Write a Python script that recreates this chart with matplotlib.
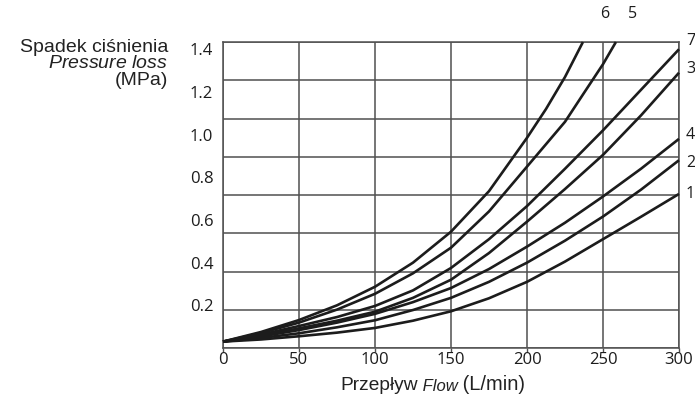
import numpy as np
import matplotlib.pyplot as plt

plt.rcParams["mathtext.fontset"] = "custom"
plt.rcParams["mathtext.rm"] = "Liberation Sans"
plt.rcParams["mathtext.it"] = "Liberation Sans:italic"

# flow (L/min) and pressure loss (MPa), one pair per curve
flow_std = [0, 25, 50, 75, 100, 125, 150, 175, 200, 225, 250, 275, 300]

loss_1 = [0.03, 0.04, 0.055, 0.072, 0.094, 0.128, 0.172, 0.233, 0.31, 0.405, 0.51, 0.615, 0.722]
loss_2 = [0.03, 0.047, 0.069, 0.097, 0.13, 0.178, 0.235, 0.31, 0.40, 0.503, 0.616, 0.742, 0.88]
loss_3 = [0.03, 0.058, 0.092, 0.128, 0.17, 0.235, 0.32, 0.445, 0.592, 0.745, 0.905, 1.09, 1.29]
loss_4 = [0.03, 0.054, 0.084, 0.119, 0.16, 0.215, 0.281, 0.37, 0.475, 0.587, 0.71, 0.84, 0.98]
loss_7 = [0.03, 0.063, 0.103, 0.145, 0.197, 0.27, 0.375, 0.51, 0.665, 0.84, 1.02, 1.21, 1.40]

flow_5 = [0, 25, 50, 75, 100, 125, 150, 175, 200, 225, 237, 250, 258.5]
loss_5 = [0.03, 0.07, 0.119, 0.18, 0.254, 0.35, 0.47, 0.64, 0.85, 1.06, 1.19, 1.33, 1.434]

flow_6 = [0, 25, 50, 75, 100, 125, 150, 175, 200, 212.5, 225, 236.8]
loss_6 = [0.03, 0.075, 0.131, 0.2, 0.287, 0.4, 0.545, 0.735, 0.985, 1.12, 1.27, 1.434]

curves = [("1", flow_std, loss_1), ("2", flow_std, loss_2), ("3", flow_std, loss_3),
          ("4", flow_std, loss_4), ("5", flow_5, loss_5), ("6", flow_6, loss_6),
          ("7", flow_std, loss_7)]

# where each curve number sits relative to the curve end (points)
label_offset = {"1": (5, 0), "2": (5, -2), "3": (5, 3), "4": (5, 3), "7": (5, 6),
                "5": (12, 20), "6": (16, 20)}

x_ticks = [0, 50, 100, 150, 200, 250, 300]
y_ticks = [0.2, 0.4, 0.6, 0.8, 1.0, 1.2, 1.4]
y_top = 1.434

W, H = 695, 405
fig = plt.figure(figsize=(W / 100, H / 100), dpi=100)
ax = fig.add_axes([223 / W, 1 - 348 / H, (679 - 223) / W, (348 - 42) / H])

grid_c = "#505050"
ink = "#1c1c1c"

for name, fx, fy in curves:
    ax.plot(fx, fy, color=ink, lw=1.9, solid_capstyle="butt", solid_joinstyle="round",
            clip_on=False, zorder=3)
    ax.annotate(name, (fx[-1], fy[-1]), xytext=label_offset[name], textcoords="offset points",
                ha="left" if fx[-1] >= 300 else "center", va="center", fontsize=11.5,
                family="Open Sans", color=ink, annotation_clip=False)

ax.set_xlim(0, 300)
ax.set_ylim(0, y_top)

ax.set_xticks(x_ticks)
ax.set_xticklabels([str(v) for v in x_ticks], family="Open Sans", fontsize=12)
ax.set_yticks(y_ticks)
ax.set_yticklabels([f"{v:.1f}" for v in y_ticks], family="Open Sans", fontsize=12)
ax.set_yticks(np.linspace(0, y_top, 9), minor=True)

ax.tick_params(axis="x", length=3, width=1, color=grid_c, pad=0, labelcolor=ink)
ax.tick_params(axis="y", which="both", length=0, pad=7, labelcolor=ink)
ax.grid(axis="x", color=grid_c, lw=1.1)
ax.grid(axis="y", which="minor", color=grid_c, lw=1.1)
for s in ax.spines.values():
    s.set_color(grid_c)
    s.set_linewidth(1.1)

# y axis title: one right-aligned block, middle line in italics
fig.text(168 / W, 1 - 64 / H, "Spadek ciśnienia\n$\\mathit{Pressure\\ loss}$\n(MPa)",
         ha="right", va="center", multialignment="right", linespacing=0.95,
         fontsize=14, family="Liberation Sans", color="#222222")

# x axis title with italic "Flow"
xl = dict(family="Liberation Sans", color="#222222")
t1 = fig.text(340 / W, 1 - 390 / H, "Przepływ", ha="left", va="baseline", fontsize=13.8, **xl)
t2 = ax.annotate(" Flow", xy=(1, 0), xycoords=t1, style="italic", fontsize=12,
                 ha="left", va="bottom", **xl)
ax.annotate(" (L/min)", xy=(1, 0), xycoords=t2, ha="left", va="bottom", fontsize=14.5, **xl)

fig.savefig("out.png", dpi=100)
